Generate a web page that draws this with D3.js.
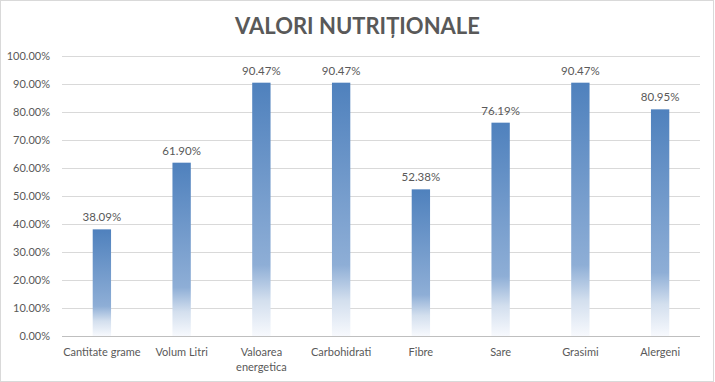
<!DOCTYPE html>
<html>
<head>
<meta charset="utf-8">
<script src="https://cdn.jsdelivr.net/npm/d3@7"></script>
<style>
  body { margin: 0; background: #fff; }
  text { font-family: Lato, "Open Sans", sans-serif; fill: #595959; }
</style>
</head>
<body>
<div id="chart"></div>
<script>
// values
const categories = ["Cantitate grame", "Volum Litri", "Valoarea energetica", "Carbohidrati",
  "Fibre", "Sare", "Grasimi", "Alergeni"];
const values = [38.09, 61.90, 90.47, 90.47, 52.38, 76.19, 90.47, 80.95];
const yTicks = [0, 10, 20, 30, 40, 50, 60, 70, 80, 90, 100];

const W = 715, H = 382;
const margin = {top: 56, right: 15, bottom: 46, left: 62};
const width = W - margin.left - margin.right;
const height = H - margin.top - margin.bottom;

const svg = d3.select("#chart").append("svg")
  .attr("width", W)
  .attr("height", H);

// chart border
svg.append("rect")
  .attr("x", 0.5).attr("y", 0.5)
  .attr("width", 713).attr("height", 381)
  .attr("fill", "#fff")
  .attr("stroke", "#d9d9d9");

// bar gradient, fades to white at the bottom of each bar
const grad = svg.append("defs").append("linearGradient")
  .attr("id", "barGrad")
  .attr("x1", 0).attr("y1", 0).attr("x2", 0).attr("y2", 1);
[[0, "#4f81bd"], [0.72, "#8eaed6"], [0.86, "#d3dfee"], [1, "#f7f9fd"]].forEach(s => {
  grad.append("stop").attr("offset", s[0]).attr("stop-color", s[1]);
});

svg.append("text")
  .attr("x", W / 2)
  .attr("y", 34)
  .attr("text-anchor", "middle")
  .style("font-size", "22px")
  .style("font-weight", "bold")
  .text("VALORI NUTRIȚIONALE");

const g = svg.append("g")
  .attr("transform", `translate(${margin.left},${margin.top})`);

const x = d3.scaleBand().domain(categories).range([0, width]).paddingInner(0.77).paddingOuter(0.385);
const y = d3.scaleLinear().domain([0, 100]).range([height, 0]);

// gridlines
g.append("g")
  .selectAll("line")
  .data(yTicks)
  .enter()
  .append("line")
  .attr("x1", 0).attr("x2", width)
  .attr("y1", d => Math.round(y(d)) + 0.5)
  .attr("y2", d => Math.round(y(d)) + 0.5)
  .attr("stroke", d => d === 0 ? "#bfbfbf" : "#d9d9d9");

// y axis labels
const yAxis = g.append("g")
  .call(d3.axisLeft(y).tickValues(yTicks).tickSize(0).tickPadding(12)
    .tickFormat(d => d.toFixed(2) + "%"));
yAxis.select(".domain").remove();
yAxis.selectAll("text").style("font-size", "11px").attr("fill", "#595959")
  .style("font-family", "Lato, 'Open Sans', sans-serif");

// bars
g.selectAll("rect.bar")
  .data(values)
  .enter()
  .append("rect")
  .attr("class", "bar")
  .attr("x", (d, i) => x(categories[i]))
  .attr("y", d => y(d))
  .attr("width", x.bandwidth())
  .attr("height", d => height - y(d))
  .attr("fill", "url(#barGrad)");

// data labels
g.selectAll("text.lbl")
  .data(values)
  .enter()
  .append("text")
  .attr("class", "lbl")
  .attr("x", (d, i) => x(categories[i]) + x.bandwidth() / 2)
  .attr("y", d => y(d) - 8)
  .attr("text-anchor", "middle")
  .style("font-size", "11.5px")
  .text(d => d.toFixed(2) + "%");

// category labels, wrapped like the original
const xAxis = g.append("g")
  .attr("transform", `translate(0,${height})`)
  .call(d3.axisBottom(x).tickSize(0).tickPadding(0));
xAxis.select(".domain").remove();
xAxis.selectAll("text").remove();
xAxis.selectAll(".tick").each(function(d) {
  const lines = d === "Valoarea energetica" ? ["Valoarea", "energetica"] : [d];
  const t = d3.select(this).append("text")
    .attr("text-anchor", "middle")
    .style("font-size", "11px")
    .style("font-family", "Lato, 'Open Sans', sans-serif")
    .attr("fill", "#595959");
  lines.forEach((l, i) => {
    t.append("tspan").attr("x", 0).attr("y", 20 + i * 15).text(l);
  });
});
</script>
</body>
</html>
